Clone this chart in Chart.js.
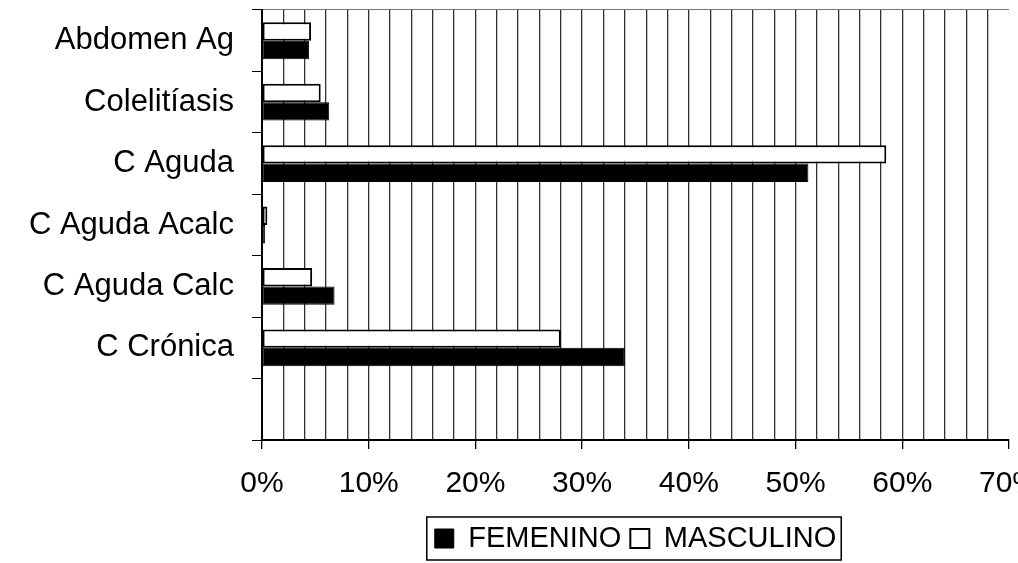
<!DOCTYPE html>
<html lang="es">
<head>
<meta charset="UTF-8">
<title>Diagnósticos por sexo</title>
<script src="https://cdn.jsdelivr.net/npm/chart.js"></script>
<style>
  html, body { margin: 0; padding: 0; background: #fff; }
  #wrap { width: 1018px; height: 563px; }
</style>
</head>
<body>
<div id="wrap"><canvas id="chart" width="1018" height="563"></canvas></div>
<script>
    // categorías (la última casilla queda vacía, como en el original)
    const categorias = ['Abdomen Ag', 'Colelitíasis', 'C Aguda', 'C Aguda Acalc', 'C Aguda Calc', 'C Crónica', ''];
    // porcentajes
    const femenino  = [4.4, 6.3, 51.2, 0.3, 6.8, 34.0, null];
    const masculino = [4.6, 5.5, 58.5, 0.5, 4.7, 28.0, null];
    // marcas del eje x
    const ejeMin = 0;
    const ejeMax = 70;
    const paso = 2;

    const familia = '"Liberation Sans", Arial, sans-serif';

    // marco alrededor de la leyenda
    const marcoLeyenda = {
        id: 'marcoLeyenda',
        afterDraw(chart) {
            const cajas = chart.legend.legendHitBoxes;
            if (!cajas || !cajas.length) return;
            const c = chart.ctx;
            let x0 = Infinity, x1 = -Infinity, y0 = Infinity, y1 = -Infinity;
            cajas.forEach(function(b) {
                x0 = Math.min(x0, b.left);
                x1 = Math.max(x1, b.left + b.width);
                y0 = Math.min(y0, b.top);
                y1 = Math.max(y1, b.top + b.height);
            });
            c.save();
            c.strokeStyle = '#000';
            c.lineWidth = 1.5;
            c.strokeRect(x0 - 8, y0 - 7, (x1 - x0) + 13, (y1 - y0) + 14);
            c.restore();
        }
    };

    const grafico = new Chart(document.getElementById('chart'), {
        type: 'bar',
        data: {
            labels: categorias,
            datasets: [
                {
                    label: 'MASCULINO',
                    data: masculino,
                    backgroundColor: '#ffffff',
                    borderColor: '#000000',
                    borderWidth: 2,
                    borderSkipped: false
                },
                {
                    label: 'FEMENINO',
                    data: femenino,
                    backgroundColor: '#000000',
                    borderColor: '#000000',
                    borderWidth: 1,
                    borderSkipped: false
                }
            ]
        },
        options: {
            indexAxis: 'y',
            responsive: false,
            animation: false,
            layout: { padding: { top: 10, right: 9, bottom: 0, left: 0 } },
            datasets: {
                bar: { categoryPercentage: 0.6, barPercentage: 1.0 }
            },
            plugins: {
                tooltip: { enabled: false },
                legend: {
                    position: 'bottom',
                    fullSize: false,
                    reverse: true,
                    labels: {
                        color: '#000',
                        font: { family: familia, size: 29 },
                        boxWidth: 19,
                        boxHeight: 19,
                        padding: 9
                    }
                }
            },
            scales: {
                x: {
                    min: ejeMin,
                    max: ejeMax,
                    ticks: {
                        stepSize: paso,
                        autoSkip: false,
                        maxRotation: 0,
                        color: '#000',
                        font: { family: familia, size: 30 },
                        padding: 17,
                        callback: function(v) { return v % 10 === 0 ? v + '%' : ''; }
                    },
                    grid: {
                        color: function(ctx) {
                            return (ctx.tick && ctx.tick.value === ejeMax) ? 'rgba(0,0,0,0)' : '#333';
                        },
                        lineWidth: 1.3,
                        tickColor: function(ctx) {
                            return (ctx.tick && ctx.tick.value % 10 === 0) ? '#000' : 'rgba(0,0,0,0)';
                        },
                        tickLength: 9
                    },
                    border: { display: true, color: '#000', width: 2 },
                    afterFit: function(scale) {
                        scale.paddingLeft = 0;
                        scale.paddingRight = 0;
                        scale.height = 75;
                    }
                },
                y: {
                    ticks: {
                        color: '#000',
                        font: { family: familia, size: 31 },
                        padding: 18
                    },
                    grid: {
                        offset: true,
                        drawOnChartArea: true,
                        color: function(ctx) {
                            return ctx.index === 0 ? '#777' : 'rgba(0,0,0,0)';
                        },
                        tickColor: '#000',
                        tickLength: 10
                    },
                    border: { display: true, color: '#000', width: 2 },
                    afterFit: function(scale) {
                        scale.width = 262;
                        scale.paddingTop = 0;
                        scale.paddingBottom = 0;
                    }
                }
            }
        },
        plugins: [marcoLeyenda]
    });
</script>
</body>
</html>
